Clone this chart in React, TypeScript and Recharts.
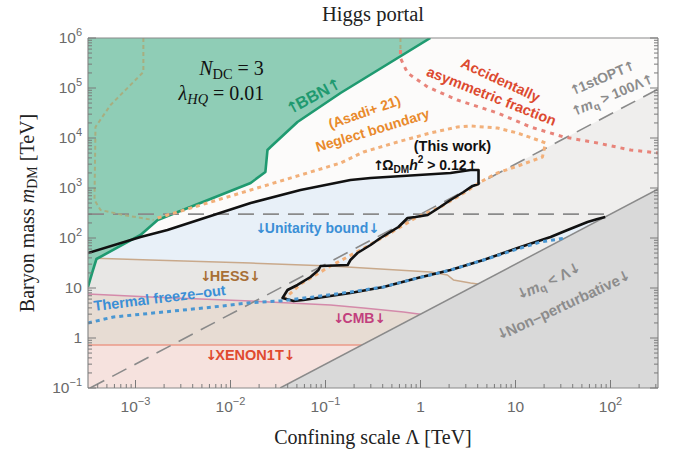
import React from "react";
import { ComposedChart, Scatter, XAxis, YAxis, CartesianGrid } from "recharts";

// every point is [Λ, m_DM] in TeV
type Pt = [number, number];

const X_DOMAIN: [number, number] = [-3.5, 2.5];
const Y_DOMAIN: [number, number] = [-1, 6];

const BBN_EDGE: Pt[] = [
    [3.16e-4, 10.5], [3.52e-4, 21], [3.88e-4, 38], [1.13e-3, 115], [1.71e-3, 229],
    [0.0163, 1260], [0.0233, 2090], [0.0245, 5750], [0.0264, 6610], [0.0507, 20900],
    [0.144, 79400], [1.27, 1e6],
];
const BBN_OLD: Pt[] = [
    [1.21e-3, 1e6], [1.21e-3, 2.09e5], [5.46e-4, 4.57e4], [3.79e-4, 1.66e4], [3.7e-4, 575],
    [4.28e-4, 363], [7.48e-4, 288], [1.55e-3, 229],
];
const BBN_OLD_STUB: Pt[] = [[0.615, 1e6], [0.615, 5.75e5]];

const ACCIDENTAL: Pt[] = [
    [0.615, 5.75e5], [0.615, 3.98e5], [0.73, 2.0e5], [1.19, 1.05e5], [2.45, 5.75e4],
    [6.47, 3.16e4], [14.4, 1.66e4], [32.0, 1.05e4], [73.0, 7940], [163, 5750], [320, 5010],
];

const ASADI: Pt[] = [
    [1.71e-3, 251], [0.0163, 912], [0.144, 3160], [0.251, 5250], [0.573, 8320],
    [1.27, 12600], [2.45, 16600], [3.36, 17400], [6.47, 15800], [10.5, 12600],
    [17.1, 9120], [20.7, 7940], [19.2, 4170], [11.3, 2880], [6.47, 2000], [4.28, 1320],
    [2.98, 832], [1.62, 417], [0.885, 251], [0.483, 126], [0.233, 57.5], [0.113, 27.5],
    [0.0546, 12.0], [0.0379, 6.31],
];

const OMEGA_UPPER: Pt[] = [
    [3.16e-4, 50.1], [1.13e-3, 105], [2.17e-3, 145], [0.0163, 501], [0.0546, 912],
    [0.183, 1450], [0.298, 1580], [2.07, 2000], [3.36, 2290], [4.08, 2290], [4.08, 1200],
];
const OMEGA_EDGE: Pt[] = [
    [3.53, 1100], [2.84, 832], [2.07, 575], [1.55, 398], [1.19, 288], [0.885, 263],
    [0.73, 251], [0.586, 166], [0.483, 132], [0.379, 100], [0.298, 72.4], [0.217, 50.1],
    [0.183, 36.3], [0.171, 28.8], [0.0886, 27.5], [0.0844, 22.9], [0.0695, 16.6],
    [0.0507, 11.5], [0.0398, 9.12], [0.0353, 6.31], [0.046, 5.5], [0.0586, 5.75],
];
const OMEGA_LOWER: Pt[] = [
    [0.183, 7.94], [0.408, 10.5], [0.929, 15.8], [2.07, 22.9], [4.6, 36.3], [10.5, 63.1],
    [23.4, 105], [35.3, 145], [57.3, 209], [73.0, 240], [88.0, 262],
];

const FREEZE_OUT: Pt[] = [
    [3.16e-4, 2.0], [5.86e-4, 2.63], [1.97e-3, 3.31], [6.62e-3, 4.17], [0.0151, 5.01],
    [0.0336, 5.5], [0.0748, 6.61], [0.183, 8.32], [0.408, 10.5], [0.929, 15.8],
    [2.07, 22.9], [4.6, 36.3], [10.5, 60.3], [18.3, 83.2], [33.6, 100],
];

const HESS_EDGE: Pt[] = [
    [3.16e-4, 39.8], [1.44e-3, 36.3], [0.0163, 31.6], [0.113, 27.5], [1.27, 20.9],
    [1.92, 18.2], [2.22, 14.5], [3.36, 12.6], [4.0, 12.0],
];
const CMB_EDGE: Pt[] = [
    [3.16e-4, 7.59], [1.44e-3, 6.61], [0.0163, 5.5], [0.113, 4.57], [0.251, 3.98],
    [0.662, 3.31], [1.0, 3.0],
];
const XENON_EDGE: Pt[] = [[3.16e-4, 0.724], [0.241, 0.724]];
const BAND_FLOOR: Pt[] = [[0.0333, 0.1], [3.16e-4, 0.1]];

// m_q > 100Λ and m_q < Λ, with m_DM = 3 m_q
const FIRST_OPT_LINE: Pt[] = [[3.33e-4, 0.1], [320, 9.6e4]];
const NONPERT_LINE: Pt[] = [[0.0333, 0.1], [320, 960]];
const UNITARITY_LINE: Pt[] = [[3.16e-4, 300], [100, 300]];
const UNITARITY_WEDGE: Pt[] = [[23.4, 105], [35.3, 145], [57.3, 209], [73.0, 240], [88.0, 262], [35, 105]];

type Part = { t: string; sub?: boolean; sup?: boolean; it?: boolean };
type Note = { l: number; m: number; parts: Part[]; color: string; size: number; angle?: number; serif?: boolean };

const NOTES: Note[] = [
    { l: 0.073, m: 6.92e4, angle: -28, color: "#1f9a70", size: 16.5, parts: [{ t: "↑BBN↑" }] },
    { l: 0.257, m: 3.31e4, angle: -19, color: "#e98a2c", size: 14, parts: [{ t: "(Asadi+ 21)" }] },
    { l: 0.313, m: 1.445e4, angle: -17, color: "#e98a2c", size: 14, parts: [{ t: "Neglect boundary" }] },
    { l: 6.95, m: 1.445e5, angle: 25, color: "#dc4a30", size: 14.5, parts: [{ t: "Accidentally" }] },
    { l: 5.59, m: 6.92e4, angle: 21.5, color: "#dc4a30", size: 14.5, parts: [{ t: "asymmetric fraction" }] },
    { l: 80.4, m: 1.585e5, angle: -23, color: "#8c8c8c", size: 14, parts: [{ t: "↑1stOPT↑" }] },
    {
        l: 102.5, m: 7.24e4, angle: -23, color: "#8c8c8c", size: 14,
        parts: [{ t: "↑" }, { t: "m", it: true }, { t: "q", sub: true }, { t: " > 100Λ↑" }],
    },
    { l: 2.17, m: 6920, color: "#111", size: 14.5, parts: [{ t: "(This work)" }] },
    {
        l: 1.1, m: 2880, color: "#111", size: 14,
        parts: [{ t: "↑Ω" }, { t: "DM", sub: true }, { t: "h", it: true }, { t: "2", sup: true }, { t: " > 0.12↑" }],
    },
    { l: 0.0804, m: 158, color: "#3b8fd6", size: 14, parts: [{ t: "↓Unitarity bound↓" }] },
    { l: 9.76e-3, m: 17.4, color: "#a86f35", size: 14.5, parts: [{ t: "↓HESS↓" }] },
    { l: 1.79e-3, m: 6.31, angle: -7, color: "#3b8fd6", size: 14.5, parts: [{ t: "Thermal freeze–out" }] },
    { l: 0.2225, m: 2.51, color: "#c23f7d", size: 14, parts: [{ t: "↓CMB↓" }] },
    { l: 0.01585, m: 0.457, color: "#e04a2f", size: 14.5, parts: [{ t: "↓XENON1T↓" }] },
    {
        l: 21.7, m: 13.8, angle: -25, color: "#8c8c8c", size: 15,
        parts: [{ t: "↓" }, { t: "m", it: true }, { t: "q", sub: true }, { t: " < Λ↓" }],
    },
    { l: 31.2, m: 4.57, angle: -25, color: "#8c8c8c", size: 15, parts: [{ t: "↓Non–perturbative↓" }] },
    {
        l: 0.01026, m: 2.55e5, color: "#111", size: 20, serif: true,
        parts: [{ t: "N", it: true }, { t: "DC", sub: true }, { t: " = 3" }],
    },
    {
        l: 8.04e-3, m: 7.8e4, color: "#111", size: 20, serif: true,
        parts: [{ t: "λ", it: true }, { t: "HQ", sub: true, it: true }, { t: " = 0.01" }],
    },
];

const toXY = (pts: Pt[]) => pts.map(([l, m]) => ({ x: Math.log10(l), y: Math.log10(m) }));

const logTicks = (lo: number, hi: number) => {
    const out: number[] = [];
    for (let d = Math.floor(lo); d <= Math.ceil(hi); d++) {
        for (let k = 1; k < 10; k++) {
            const v = d + Math.log10(k);
            if (v >= lo - 1e-9 && v <= hi + 1e-9) out.push(v);
        }
    }
    return out;
};
const X_TICKS = logTicks(X_DOMAIN[0], X_DOMAIN[1]);
const Y_TICKS = logTicks(Y_DOMAIN[0], Y_DOMAIN[1]);

const SANS = "'Liberation Sans', Arial, sans-serif";
const ARROWS = "'DejaVu Sans', sans-serif";
const SERIF = "'Liberation Serif', 'Times New Roman', serif";
const TICK_COLOR = "#7a7a7a";
const FRAME = { stroke: "#8a8a8a", strokeWidth: 1.2 };

const isMajor = (v: number) => Math.abs(v - Math.round(v)) < 1e-6;

function Decade({ x, y, exp, anchor }: { x: number; y: number; exp: number; anchor: "middle" | "end" }) {
    const base = exp === 0 ? "1" : "10";
    const sup = exp === 0 || exp === 1 ? null : exp < 0 ? `−${-exp}` : `${exp}`;
    return (
        <text x={x} y={y} textAnchor={anchor} fontFamily={SANS} fontSize={15.5} fill="#6a6a6a">
            <tspan>{base}</tspan>
            {sup && <tspan dy={-7} fontSize={11}>{sup}</tspan>}
        </text>
    );
}

function TickMark({ x, y, payload, side }: any) {
    const v = payload.value;
    const major = isMajor(v);
    const len = major ? 8 : 4;
    const exp = Math.round(v);
    if (side === "bottom") {
        return (
            <g>
                <line x1={x} x2={x} y1={y} y2={y - len} stroke={TICK_COLOR} />
                {major && <Decade x={x} y={y + 24} exp={exp} anchor="middle" />}
            </g>
        );
    }
    if (side === "top") return <line x1={x} x2={x} y1={y} y2={y + len} stroke={TICK_COLOR} />;
    if (side === "right") return <line x1={x} x2={x - len} y1={y} y2={y} stroke={TICK_COLOR} />;
    return (
        <g>
            <line x1={x} x2={x + len} y1={y} y2={y} stroke={TICK_COLOR} />
            {major && <Decade x={x - 6} y={y + 5} exp={exp} anchor="end" />}
        </g>
    );
}

// Liberation's arrows are tiny; DejaVu's are tall but wide, so they get pulled in a little
const splitArrows = (t: string) => t.split(/([↑↓])/).filter(s => s.length > 0);

function RichText({ x, y, note }: { x: number; y: number; note: Note }) {
    const { size, parts, color, angle = 0, serif } = note;
    let offset = 0;
    const spans: React.ReactNode[] = [];
    parts.forEach((p, i) => {
        const target = p.sub ? size * 0.3 : p.sup ? -size * 0.42 : 0;
        const dy = target - offset;
        offset = target;
        const fs = p.sub || p.sup ? size * 0.72 : size;
        splitArrows(p.t).forEach((piece, j) => {
            const arrow = piece === "↑" || piece === "↓";
            spans.push(
                <tspan key={`${i}-${j}`} dy={j === 0 ? dy : 0} fontSize={arrow ? size * 0.95 : fs}
                    fontFamily={arrow ? ARROWS : undefined} letterSpacing={arrow ? -size * 0.12 : undefined}
                    fontStyle={p.it ? "italic" : "normal"}>
                    {piece}
                </tspan>
            );
        });
    });
    return (
        <text
            x={x}
            y={y}
            textAnchor="middle"
            dominantBaseline="central"
            transform={`rotate(${angle} ${x} ${y})`}
            fontFamily={serif ? SERIF : SANS}
            fontWeight={serif ? "normal" : "bold"}
            fill={color}
        >
            {spans}
        </text>
    );
}

const NoPoint = () => <g />;
const NoteMark = (props: any) => <RichText x={props.cx} y={props.cy} note={props.payload} />;

let layer = 100;
const region = (key: string, pts: Pt[], fill: string) => (
    <Scatter key={key} data={toXY(pts)} line={{ fill, stroke: "none" }} shape={NoPoint}
        isAnimationActive={false} zIndex={layer++} />
);
const curve = (key: string, pts: Pt[], stroke: string, width: number, dash?: string) => (
    <Scatter key={key} data={toXY(pts)} fill={stroke}
        line={{ stroke, strokeWidth: width, strokeDasharray: dash, fill: "none", strokeLinejoin: "round" }}
        shape={NoPoint} isAnimationActive={false} zIndex={layer++} />
);

function XTitle({ viewBox }: any) {
    return (
        <text x={viewBox.x + viewBox.width / 2} y={viewBox.y + 56} textAnchor="middle" fontFamily={SERIF} fontSize={20} fill="#222">
            Confining scale Λ [TeV]
        </text>
    );
}
function TopTitle({ viewBox }: any) {
    return (
        <text x={viewBox.x + viewBox.width / 2} y={viewBox.y - 16} textAnchor="middle" fontFamily={SERIF} fontSize={20.5} fill="#222">
            Higgs portal
        </text>
    );
}
function YTitle({ viewBox }: any) {
    const cx = 27;
    const cy = viewBox.y + viewBox.height / 2;
    return (
        <text x={cx} y={cy} textAnchor="middle" dominantBaseline="central" transform={`rotate(-90 ${cx} ${cy})`}
            fontFamily={SERIF} fontSize={20} fill="#222">
            <tspan>Baryon mass </tspan>
            <tspan fontStyle="italic">m</tspan>
            <tspan dy={5} fontSize={14}>DM</tspan>
            <tspan dy={-5}> [TeV]</tspan>
        </text>
    );
}

export default function App() {
    const notes = NOTES.map(n => ({ ...n, x: Math.log10(n.l), y: Math.log10(n.m) }));
    const unitarity = [...OMEGA_UPPER, ...OMEGA_EDGE.slice(0, 20), [3.16e-4, 6.31] as Pt];
    const omegaContour = [...OMEGA_UPPER, ...OMEGA_EDGE, ...OMEGA_LOWER];

    return (
        <div style={{ position: "absolute", left: 0, top: 0, width: 678, height: 455, background: "#fff" }}>
            <ComposedChart width={678} height={455} margin={{ top: 37, right: 19, bottom: 1, left: 0 }}>
                <CartesianGrid horizontal={false} vertical={false} fill="#fcfbfa" />
                <XAxis type="number" dataKey="x" domain={X_DOMAIN} allowDataOverflow ticks={X_TICKS} interval={0}
                    tickSize={0} tickMargin={0} tickLine={false} tick={(p: any) => <TickMark {...p} side="bottom" />}
                    axisLine={FRAME} height={66} label={<XTitle />} />
                <XAxis xAxisId="top" orientation="top" type="number" domain={X_DOMAIN} allowDataOverflow ticks={X_TICKS}
                    interval={0} tickSize={0} tickMargin={0} tickLine={false} tick={(p: any) => <TickMark {...p} side="top" />}
                    axisLine={FRAME} height={1} label={<TopTitle />} />
                <YAxis type="number" dataKey="y" domain={Y_DOMAIN} allowDataOverflow ticks={Y_TICKS} interval={0}
                    tickSize={0} tickMargin={0} tickLine={false} tick={(p: any) => <TickMark {...p} side="left" />}
                    axisLine={FRAME} width={88} label={<YTitle />} />
                <YAxis yAxisId="right" orientation="right" type="number" domain={Y_DOMAIN} allowDataOverflow ticks={Y_TICKS}
                    interval={0} tickSize={0} tickMargin={0} tickLine={false} tick={(p: any) => <TickMark {...p} side="right" />}
                    axisLine={FRAME} width={1} />

                {region("first-opt", [...FIRST_OPT_LINE, [320, 0.1]], "#efeeed")}
                {region("unitarity", unitarity, "#e8f0f8")}
                {region("unitarity-wedge", UNITARITY_WEDGE, "#e8f0f8")}
                {region("hess", [...HESS_EDGE, ...BAND_FLOOR], "#e8e7e5")}
                {region("cmb", [...CMB_EDGE, ...BAND_FLOOR], "#e7dcd3")}
                {region("xenon", [...XENON_EDGE, ...BAND_FLOOR], "#f6e2de")}
                {curve("hess-line", HESS_EDGE, "#c9a98b", 1.5)}
                {curve("cmb-line", CMB_EDGE, "#d48aaa", 1.5)}
                {curve("xenon-line", XENON_EDGE, "#eb9a88", 1.5)}
                {curve("first-opt-line", FIRST_OPT_LINE, "#8a8a8a", 1.6, "16 9")}
                {region("nonpert", [...NONPERT_LINE, [320, 0.1]], "#d9d9d9")}
                {curve("nonpert-line", NONPERT_LINE, "#8a8a8a", 1.5)}
                {region("bbn", [...BBN_EDGE, [3.16e-4, 1e6]], "#8fcdb6")}
                {curve("bbn-line", BBN_EDGE, "#1f9a70", 2.6)}
                {curve("unitarity-line", UNITARITY_LINE, "#8a8a8a", 1.6, "16 9")}
                {curve("bbn-old", BBN_OLD, "#a7ae80", 2, "4 3")}
                {curve("bbn-old-stub", BBN_OLD_STUB, "#a7ae80", 2, "4 3")}
                {curve("accidental", ACCIDENTAL, "#e8847a", 3, "4 5")}
                {curve("asadi", ASADI, "#f2b07a", 3, "4 4")}
                {curve("omega", omegaContour, "#111", 2.6)}
                {curve("freeze-out", FREEZE_OUT, "#4a97d2", 3, "4 4")}

                <Scatter data={notes} shape={NoteMark} isAnimationActive={false} zIndex={layer++} />
            </ComposedChart>
        </div>
    );
}
